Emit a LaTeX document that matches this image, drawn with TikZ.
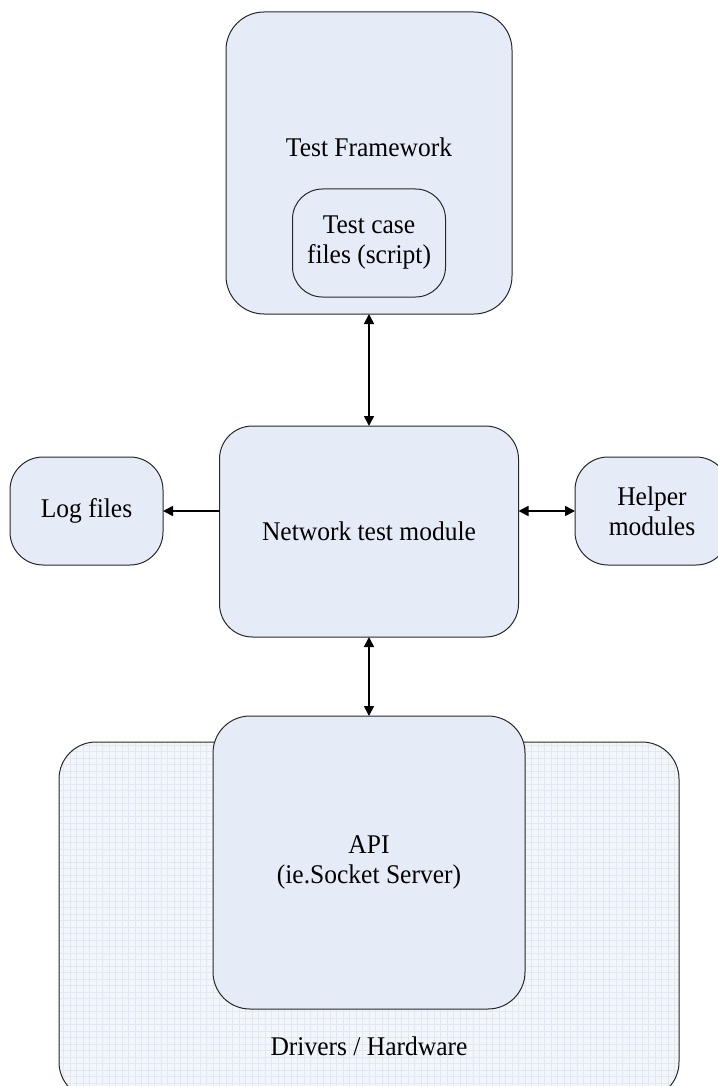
\documentclass[tikz,border=0pt]{standalone}
\usepackage{fontspec}
\setmainfont[FakeStretch=0.945]{Liberation Serif}
\usetikzlibrary{arrows.meta}
\definecolor{boxfill}{RGB}{230,236,247}
\definecolor{hwfill}{RGB}{243,246,251}
\definecolor{hwgrid}{RGB}{226,232,242}
\definecolor{edge}{RGB}{40,40,40}
\tikzset{
  box/.style={draw=edge, line width=1pt, fill=boxfill, inner sep=0pt, outer sep=0pt,
    align=center, font=\fontsize{27}{30}\selectfont},
  lbl/.style={inner sep=0pt, align=center, font=\fontsize{27}{30}\selectfont},
  conn/.style={line width=1.6pt, black, arrows={-Triangle[length=10pt,width=10pt]}},
  conn2/.style={line width=1.6pt, black, arrows={Triangle[length=10pt,width=10pt]-Triangle[length=10pt,width=10pt]}}
}
\begin{document}
\begin{tikzpicture}[x=1pt,y=-1pt]
\useasboundingbox (0,0) rectangle (717,1086);
% Drivers / Hardware
\node[draw=edge, line width=1pt, fill=hwfill, rounded corners=37, minimum width=620, minimum height=357, inner sep=0pt,
  path picture={\draw[hwgrid, line width=0.6pt, xstep=6.5pt, ystep=6.5pt] (path picture bounding box.south west) grid (path picture bounding box.north east);}]
  (hw) at (369,920.5) {};
\node[lbl] (hwt) at (369,1046) {Drivers / Hardware};
% API
\node[box, rounded corners=37, minimum width=312, minimum height=293] (api) at (369,862.5) {API\\(ie.Socket Server)};
% Test Framework
\node[box, rounded corners=38, minimum width=286, minimum height=302] (tf) at (369,163) {};
\node[lbl] (tft) at (369,147) {Test Framework};
\node[box, rounded corners=30, minimum width=153, minimum height=108] (tc) at (369,243) {Test case\\files (script)};
% Network test module
\node[box, rounded corners=33, minimum width=299, minimum height=211] (ntm) at (369,531.5) {Network test module};
% Log files
\node[box, rounded corners=33, minimum width=153, minimum height=108] (log) at (86.5,511) {Log files};
% Helper modules
\node[box, rounded corners=33, minimum width=154, minimum height=108] (help) at (652,511) {Helper\\modules};
% connectors
\draw[conn2] (tf.south) -- (ntm.north);
\draw[conn2] (ntm.south) -- (api.north);
\draw[conn] (log.east -| ntm.west) -- (log.east);
\draw[conn2] (help.west -| ntm.east) -- (help.west);
\end{tikzpicture}
\end{document}
